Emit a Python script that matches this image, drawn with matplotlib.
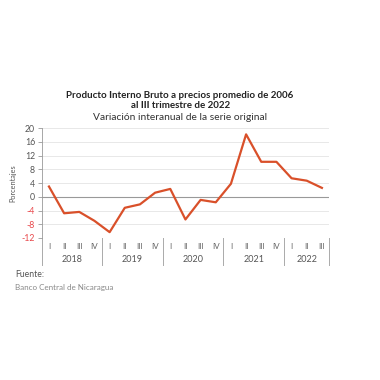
import matplotlib.pyplot as plt
import numpy as np

# PIB trimestral, variación interanual (%)
quarters = ["I", "II", "III", "IV"] * 4 + ["I", "II", "III"]
years = ["2018", "2019", "2020", "2021", "2022"]
year_sizes = [4, 4, 4, 4, 3]
values = [3.0, -4.8, -4.4, -7.0, -10.3,
          -3.2, -2.2, 1.2, 2.3,
          -6.6, -0.9, -1.6, 3.8,
          18.2, 10.2, 10.2, 5.4,
          4.7, 2.6]
yticks = [-12, -8, -4, 0, 4, 8, 12, 16, 20]

line_color = "#D9502A"
text_gray = "#555555"
neg_red = "#E8474A"

plt.rcParams["font.family"] = ["Lato", "DejaVu Sans"]

fig = plt.figure(figsize=(3.8, 3.8), dpi=100)
ax = fig.add_axes([0.1105, 0.3737, 0.755, 0.289])

x = np.arange(len(values))
ax.plot(x, values, color=line_color, lw=1.6, zorder=3)

ax.set_xlim(-0.46, len(values) - 0.54)
ax.set_ylim(-12, 20)
ax.set_yticks(yticks)
ax.set_yticklabels([str(v) for v in yticks], fontsize=6.3)
for lbl, v in zip(ax.get_yticklabels(), yticks):
    lbl.set_color(neg_red if v < 0 else text_gray)
ax.tick_params(axis="y", length=3, width=0.6, color="#999999", pad=2)
for v in yticks:
    if v == 0:
        ax.axhline(v, color="#999999", lw=0.8, zorder=1)
    else:
        ax.axhline(v, color="#E4E4E4", lw=0.6, zorder=1)

ax.set_xticks([])
for s in ["top", "right", "bottom"]:
    ax.spines[s].set_visible(False)
ax.spines["left"].set_color("#999999")
ax.spines["left"].set_linewidth(0.6)

ax.set_ylabel("Porcentajes", fontsize=5.3, color=text_gray, labelpad=4)

# category axis: quarters and year groups
trans = ax.get_xaxis_transform()
for xi, q in zip(x, quarters):
    ax.text(xi, -0.08, q, transform=trans, ha="center", va="center",
            fontsize=5.8, color="#666666")
bounds = np.concatenate([[0], np.cumsum(year_sizes)]) - 0.5
bounds[0] = ax.get_xlim()[0]
bounds[-1] = ax.get_xlim()[1]
for b in bounds:
    ax.plot([b, b], [0, -0.25], transform=trans, color="#AAAAAA",
            lw=0.7, clip_on=False)
starts = np.concatenate([[0], np.cumsum(year_sizes)[:-1]])
for yr, st, n in zip(years, starts, year_sizes):
    ax.text(st + (n - 1) / 2, -0.2, yr, transform=trans, ha="center",
            va="center", fontsize=6.5, color=text_gray)

fig.text(0.474, 0.75, "Producto Interno Bruto a precios promedio de 2006",
         ha="center", va="center", fontsize=7.0, fontweight="bold", color="#222222")
fig.text(0.474, 0.722, "al III trimestre de 2022",
         ha="center", va="center", fontsize=7.0, fontweight="bold", color="#222222")
fig.text(0.474, 0.69, "Variación interanual de la serie original",
         ha="center", va="center", fontsize=7.4, color="#333333")

fig.text(0.04, 0.277, "Fuente:", ha="left", va="center", fontsize=6.2,
         color=text_gray)
fig.text(0.04, 0.244, "Banco Central de Nicaragua", ha="left", va="center",
         fontsize=5.8, color="#888888")

fig.savefig("out.png", dpi=100, facecolor="white")
